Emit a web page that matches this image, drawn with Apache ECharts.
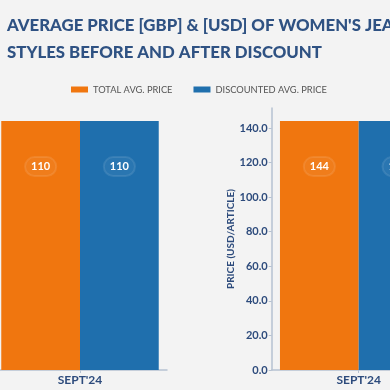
<!DOCTYPE html>
<html><head><meta charset="utf-8">
<script src="https://cdn.jsdelivr.net/npm/echarts@6/dist/echarts.min.js"></script>
<style>html,body{margin:0;padding:0;background:#f3f3f3;}#c{width:390px;height:390px;}</style>
</head><body><div id="c"></div>
<script>
const categories = ["SEPT'24"];
const gbpTotal = [110];
const gbpDiscounted = [110];
const usdTotal = [144];
const usdDiscounted = [144];
const seriesNames = ['TOTAL AVG. PRICE', 'DISCOUNTED AVG. PRICE'];
const titleLines = ["AVERAGE PRICE [GBP] & [USD] OF WOMEN'S JEANS", "STYLES BEFORE AND AFTER DISCOUNT"];

const ORANGE = '#f0760f', BLUE = '#1f6fad', DARK = '#2d4b7c', AXIS = '#b6c2d2';
const pad = v => v.max / 0.95;
const label = {
  show: true, position: 'insideTop', distance: 36, color: '#fff', fontWeight: 'bold',
  fontSize: 11, fontFamily: 'Lato', backgroundColor: 'rgba(255,255,255,0.05)',
  borderColor: 'rgba(255,255,255,0.1)', borderWidth: 1, borderRadius: 10, padding: [4, 6]
};
function xAxis(i) {
  return { type: 'category', gridIndex: i, data: categories,
    axisLine: { lineStyle: { color: AXIS, width: 1.5 } },
    axisTick: { show: true, alignWithLabel: true, length: 3, lineStyle: { color: AXIS } },
    axisLabel: { color: DARK, fontWeight: 'bold', fontSize: 12, fontFamily: 'Lato', margin: 4 } };
}
function yAxis(i, name) {
  return { type: 'value', gridIndex: i, min: 0, max: pad, interval: 20,
    name: name, nameLocation: 'middle', nameGap: 35, nameRotate: 90,
    nameTextStyle: { color: DARK, fontWeight: 'bold', fontSize: 10, fontFamily: 'Lato' },
    splitLine: { show: false },
    axisLine: { show: true, lineStyle: { color: AXIS, width: 1.5 } },
    axisTick: { show: true, length: 3, lineStyle: { color: AXIS } },
    axisLabel: { color: DARK, fontWeight: 'bold', fontSize: 11, fontFamily: 'Lato', margin: 4,
      showMaxLabel: false, formatter: v => v.toFixed(1) } };
}
const chart = echarts.init(document.getElementById('c'), null, { renderer: 'canvas' });
chart.setOption({
  backgroundColor: '#f3f3f3',
  animation: false,
  title: { text: titleLines.join('\n'), left: 2, top: 7,
    textStyle: { color: '#2f5283', fontSize: 16.8, fontWeight: 900, fontFamily: 'Lato', lineHeight: 27 } },
  legend: { left: 66, top: 80, itemWidth: 17, itemHeight: 6, itemGap: 21, icon: 'rect',
    textStyle: { color: '#555', fontSize: 9.3, fontFamily: 'Lato' }, data: seriesNames },
  grid: [
    { left: -7, top: 108, width: 174, height: 262, containLabel: false, outerBoundsMode: 'none' },
    { left: 271.7, top: 108, width: 174, height: 262, containLabel: false, outerBoundsMode: 'none' }
  ],
  xAxis: [xAxis(0), xAxis(1)],
  yAxis: [yAxis(0, 'PRICE (GBP/ARTICLE)'), yAxis(1, 'PRICE (USD/ARTICLE)')],
  series: [
    { name: seriesNames[0], type: 'bar', xAxisIndex: 0, yAxisIndex: 0, data: gbpTotal, itemStyle: { color: ORANGE }, barGap: '0%', barCategoryGap: '9.5%', label: label },
    { name: seriesNames[1], type: 'bar', xAxisIndex: 0, yAxisIndex: 0, data: gbpDiscounted, itemStyle: { color: BLUE }, barGap: '0%', barCategoryGap: '9.5%', label: label },
    { name: seriesNames[0], type: 'bar', xAxisIndex: 1, yAxisIndex: 1, data: usdTotal, itemStyle: { color: ORANGE }, barGap: '0%', barCategoryGap: '9.5%', label: label },
    { name: seriesNames[1], type: 'bar', xAxisIndex: 1, yAxisIndex: 1, data: usdDiscounted, itemStyle: { color: BLUE }, barGap: '0%', barCategoryGap: '9.5%', label: label }
  ]
});
</script></body></html>
